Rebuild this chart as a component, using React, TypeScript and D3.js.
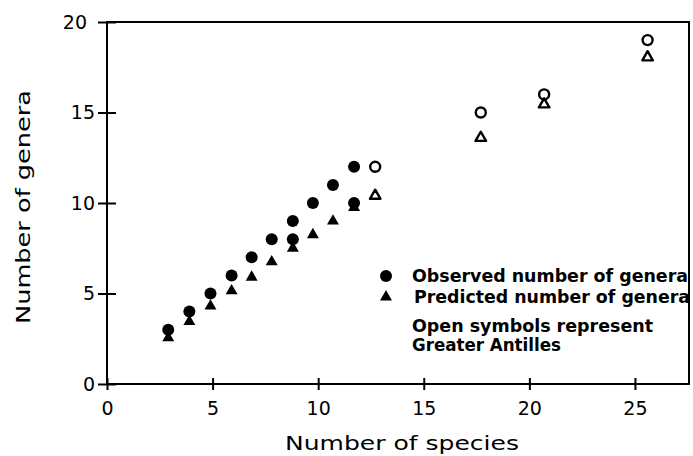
import React, { useEffect, useRef } from 'react';
import * as d3 from 'd3';

// Lesser Antilles islands (filled symbols)
const speciesX = [2.9, 3.9, 4.9, 5.9, 6.85, 7.8, 8.8, 8.8, 9.75, 10.7, 11.7, 11.7];
const observedGenera = [3, 4, 5, 6, 7, 8, 9, 8, 10, 11, 12, 10];
const predictedX = [2.9, 3.9, 4.9, 5.9, 6.85, 7.8, 8.8, 9.75, 10.7, 11.7];
const predictedGenera = [2.55, 3.45, 4.3, 5.15, 5.9, 6.75, 7.5, 8.25, 9.0, 9.75];

// Greater Antilles (open symbols)
const gaSpeciesX = [12.7, 17.7, 20.7, 25.6];
const gaObserved = [12, 15, 16, 19];
const gaPredicted = [10.4, 13.6, 15.45, 18.05];

const xTicks = [0, 5, 10, 15, 20, 25];
const yTicks = [0, 5, 10, 15, 20];

const legendLines = ['Observed number of genera', 'Predicted number of genera'];
const noteLines = ['Open symbols represent', 'Greater Antilles'];

const FONT = "'DejaVu Sans', sans-serif";

const App = () => {
    const ref = useRef<SVGSVGElement>(null);

    useEffect(() => {
        const svg = d3.select(ref.current);
        svg.selectAll('*').remove();

        const width = 693;
        const height = 456;
        const left = 107, right = 689, top = 22, bottom = 384;

        const x = d3.scaleLinear().domain([0, 27.56]).range([left, right]);
        const y = d3.scaleLinear().domain([0, 20]).range([bottom, top]);

        svg.append('rect').attr('width', width).attr('height', height).attr('fill', '#fff');

        // frame
        svg.append('rect')
            .attr('x', left).attr('y', top)
            .attr('width', right - left).attr('height', bottom - top)
            .attr('fill', 'none').attr('stroke', '#000').attr('stroke-width', 2);

        // X axis
        const gx = svg.append('g')
            .attr('transform', `translate(0,${bottom})`)
            .call(d3.axisBottom(x).tickValues(xTicks).tickSize(6).tickSizeOuter(0).tickFormat(d3.format('d')));
        gx.select('.domain').remove();
        gx.selectAll('line').attr('y1', -6).attr('stroke-width', 2);
        gx.selectAll('text')
            .attr('y', 18).attr('dy', '0.71em')
            .attr('font-family', FONT).attr('font-size', 19).attr('fill', '#000');

        // Y axis
        const gy = svg.append('g')
            .attr('transform', `translate(${left},0)`)
            .call(d3.axisLeft(y).tickValues(yTicks).tickSize(9).tickSizeOuter(0).tickFormat(d3.format('d')));
        gy.select('.domain').remove();
        gy.selectAll('line').attr('x1', 9).attr('stroke-width', 2);
        gy.selectAll('text')
            .attr('x', (d: any) => (d === 20 ? -20 : -12))
            .attr('font-family', FONT).attr('font-size', 19).attr('fill', '#000');

        // axis titles
        svg.append('text')
            .attr('x', 402).attr('y', 450)
            .attr('text-anchor', 'middle')
            .attr('font-family', FONT).attr('font-size', 20)
            .attr('textLength', 234).attr('lengthAdjust', 'spacingAndGlyphs')
            .text('Number of species');

        svg.append('text')
            .attr('transform', 'translate(30,207) rotate(-90)')
            .attr('text-anchor', 'middle')
            .attr('font-family', FONT).attr('font-size', 20)
            .attr('textLength', 234).attr('lengthAdjust', 'spacingAndGlyphs')
            .text('Number of genera');

        const tri = d3.symbol(d3.symbolTriangle, 62)();
        const triOpen = d3.symbol(d3.symbolTriangle, 48)();

        // filled circles: observed
        svg.append('g').selectAll('circle')
            .data(speciesX.map((s, i) => [s, observedGenera[i]]))
            .enter().append('circle')
            .attr('cx', d => x(d[0])).attr('cy', d => y(d[1]))
            .attr('r', 6).attr('fill', '#000');

        // filled triangles: predicted
        svg.append('g').selectAll('path')
            .data(predictedX.map((s, i) => [s, predictedGenera[i]]))
            .enter().append('path')
            .attr('d', tri)
            .attr('transform', d => `translate(${x(d[0])},${y(d[1])})`)
            .attr('fill', '#000');

        // open symbols: Greater Antilles
        svg.append('g').selectAll('circle')
            .data(gaSpeciesX.map((s, i) => [s, gaObserved[i]]))
            .enter().append('circle')
            .attr('cx', d => x(d[0])).attr('cy', d => y(d[1]))
            .attr('r', 5).attr('fill', '#fff').attr('stroke', '#000').attr('stroke-width', 2.4);

        svg.append('g').selectAll('path')
            .data(gaSpeciesX.map((s, i) => [s, gaPredicted[i]]))
            .enter().append('path')
            .attr('d', triOpen)
            .attr('transform', d => `translate(${x(d[0])},${y(d[1])})`)
            .attr('fill', '#fff').attr('stroke', '#000').attr('stroke-width', 2.4)
            .attr('stroke-linejoin', 'round');

        // legend
        const lg = svg.append('g');
        lg.append('circle').attr('cx', 386).attr('cy', 276).attr('r', 6).attr('fill', '#000');
        lg.append('path').attr('d', tri).attr('transform', 'translate(386,297)').attr('fill', '#000');
        const lgWidths = [276, 276];
        const lgX = [412, 414];
        const lgY = [276, 297];
        legendLines.forEach((t, i) => {
            lg.append('text')
                .attr('x', lgX[i]).attr('y', lgY[i]).attr('dy', '0.36em')
                .attr('font-family', FONT).attr('font-weight', 'bold').attr('font-size', 17)
                .attr('textLength', lgWidths[i]).attr('lengthAdjust', 'spacingAndGlyphs')
                .text(t);
        });
        const noteWidths = [241, 149];
        const noteY = [326, 345];
        noteLines.forEach((t, i) => {
            lg.append('text')
                .attr('x', 412).attr('y', noteY[i]).attr('dy', '0.36em')
                .attr('font-family', FONT).attr('font-weight', 'bold').attr('font-size', 17)
                .attr('textLength', noteWidths[i]).attr('lengthAdjust', 'spacingAndGlyphs')
                .text(t);
        });
    }, []);

    return (
        <svg ref={ref} width={693} height={456}
            style={{ position: 'absolute', left: 0, top: 0, display: 'block' }} />
    );
};

export default App;
